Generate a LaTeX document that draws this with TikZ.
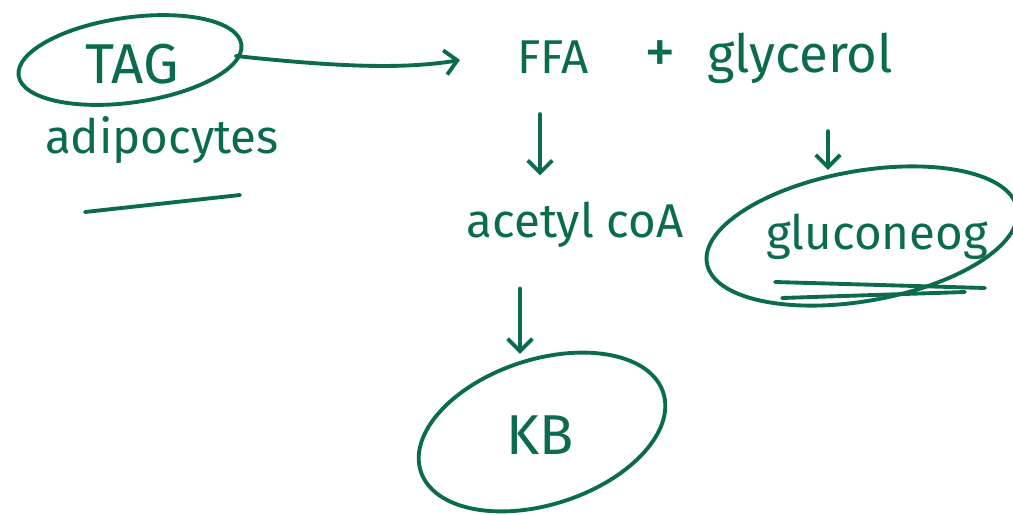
\documentclass[tikz,border=0pt]{standalone}
\usepackage{fontspec}
\setmainfont{Fira Sans}
\usetikzlibrary{shapes.geometric,arrows.meta,positioning}
\definecolor{ink}{HTML}{0B6B4E}
\tikzset{
  pen/.style={draw=ink,line width=2.2pt,line cap=round,line join=round},
  word/.style={text=ink,inner sep=1pt,font=\fontsize{27}{31}\selectfont},
  flow/.style={pen,-{Straight Barb[length=7pt,width=14pt,line width=2.2pt]}}
}
\begin{document}
\begin{tikzpicture}[x=0.02cm,y=-0.02cm]
\useasboundingbox (0,0) rectangle (1013,514);
% words
\node[word,font=\fontsize{32}{36}\selectfont] (tag) at (132,64) {TAG};
\node[word] (adipo) at (162,140) {adipocytes};
\node[word] (ffa) at (553,57) {FFA};
\node[word,font=\fontsize{36}{40}\selectfont] (plus) at (660,57) {+};
\node[word,font=\fontsize{30}{34}\selectfont] (glycerol) at (800,58) {glycerol};
\node[word] (acetyl) at (575,225) {acetyl coA};
\node[word] (glucon) at (877,237) {gluconeog};
\node[word,font=\fontsize{32}{36}\selectfont] (kb) at (540,435) {KB};
% rings
\begin{scope}[shift={(130,60)},rotate=8]
\draw[pen] (0,0) ellipse [x radius=2.25cm,y radius=0.85cm];
\end{scope}
\begin{scope}[shift={(862,236)},rotate=10]
\draw[pen] (0,0) ellipse [x radius=3.15cm,y radius=1.3cm];
\end{scope}
\begin{scope}[shift={(542,432)},rotate=18]
\draw[pen] (0,0) ellipse [x radius=2.55cm,y radius=1.45cm];
\end{scope}
% underlines
\draw[pen] (85,212) -- (240,195);
\draw[pen] (775,282) -- (985,288);
\draw[pen] (782,298) -- (965,292);
% arrows
\draw[flow] (tag.east) ++(55,-8) .. controls (330,66) and (400,70) .. (460,60);
\draw[flow,shorten <=22pt,shorten >=14pt] ([xshift=-0.26cm]ffa.south) -- ([xshift=-0.26cm]ffa.south |- acetyl.north);
\draw[flow,shorten <=26pt,shorten >=24pt] ([xshift=0.56cm]glycerol.south) -- ([xshift=0.56cm]glycerol.south |- glucon.north);
\draw[flow,shorten <=22pt,shorten >=34pt] ([xshift=-1.1cm]acetyl.south) -- ([xshift=-1.1cm]acetyl.south |- kb.north);
\end{tikzpicture}
\end{document}
